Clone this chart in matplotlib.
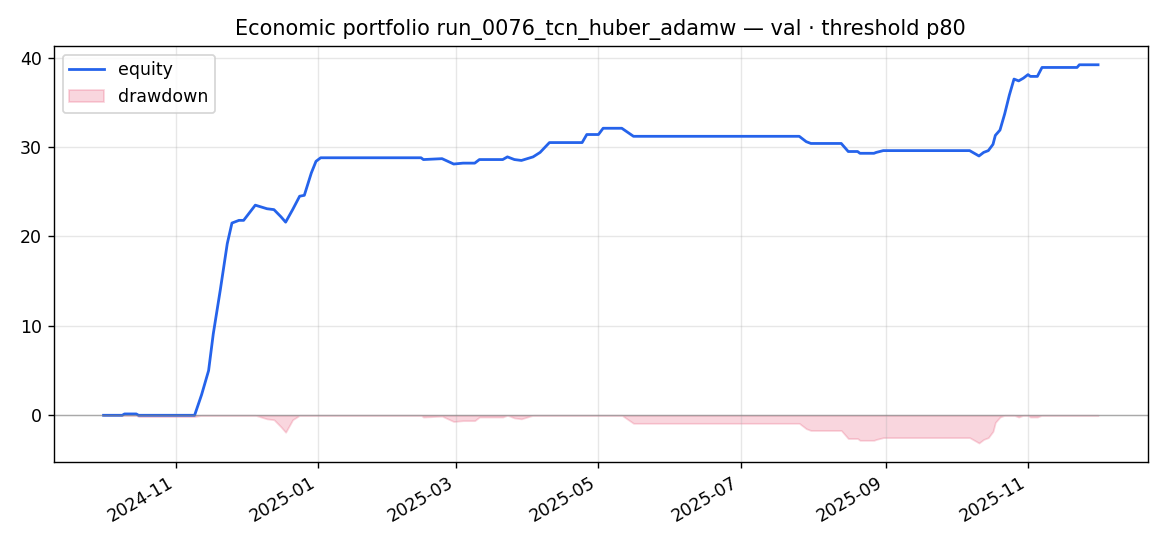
import numpy as np
import pandas as pd
import matplotlib
matplotlib.use('Agg')
import matplotlib.pyplot as plt

# equity curve
dates = [
    '2024-10-01', '2024-10-09', '2024-10-10', '2024-10-15', '2024-10-16',
    '2024-11-09', '2024-11-12', '2024-11-15', '2024-11-17', '2024-11-20',
    '2024-11-23', '2024-11-25', '2024-11-28', '2024-11-30', '2024-12-05',
    '2024-12-10', '2024-12-13', '2024-12-16', '2024-12-18', '2024-12-21',
    '2024-12-24', '2024-12-26', '2024-12-29', '2024-12-31', '2025-01-02',
    '2025-02-14', '2025-02-15', '2025-02-23', '2025-02-28', '2025-03-04',
    '2025-03-09', '2025-03-11', '2025-03-21', '2025-03-23', '2025-03-26',
    '2025-03-29', '2025-04-03', '2025-04-06', '2025-04-10', '2025-04-24',
    '2025-04-26', '2025-05-01', '2025-05-03', '2025-05-11', '2025-05-16',
    '2025-07-26', '2025-07-29', '2025-07-31', '2025-08-13', '2025-08-16',
    '2025-08-20', '2025-08-21', '2025-08-27', '2025-08-28', '2025-08-31',
    '2025-10-07', '2025-10-11', '2025-10-13', '2025-10-15', '2025-10-17',
    '2025-10-18', '2025-10-20', '2025-10-22', '2025-10-24', '2025-10-26',
    '2025-10-28', '2025-10-30', '2025-11-01', '2025-11-02', '2025-11-05',
    '2025-11-07', '2025-11-22', '2025-11-23', '2025-12-01',
]
equity = [
    0.0, 0.0, 0.15, 0.15, 0.0,
    0.0, 2.3, 5.0, 9.1, 14.0,
    19.2, 21.5, 21.8, 21.8, 23.5,
    23.1, 23.0, 22.2, 21.6, 23.0,
    24.5, 24.6, 27.1, 28.4, 28.8,
    28.8, 28.6, 28.7, 28.1, 28.2,
    28.2, 28.6, 28.6, 28.9, 28.6,
    28.5, 28.9, 29.4, 30.5, 30.5,
    31.4, 31.4, 32.1, 32.1, 31.2,
    31.2, 30.6, 30.4, 30.4, 29.5,
    29.5, 29.3, 29.3, 29.4, 29.6,
    29.6, 29.0, 29.4, 29.6, 30.3,
    31.3, 31.9, 33.7, 35.8, 37.6,
    37.4, 37.7, 38.1, 37.9, 37.9,
    38.9, 38.9, 39.2, 39.2,
]

t = pd.to_datetime(dates)
eq = np.array(equity)
drawdown = eq - np.maximum.accumulate(eq)

fig, ax = plt.subplots(figsize=(9.36, 4.368), dpi=125)
ax.plot(t, eq, color='#2563eb', lw=1.6, label='equity')
ax.fill_between(t, drawdown, 0, color='#e11d48', alpha=0.18, label='drawdown')
ax.axhline(0, color='gray', lw=0.8, alpha=0.6)
ax.set_title('Economic portfolio run_0076_tcn_huber_adamw — val · threshold p80')
ax.grid(alpha=0.3)
ax.legend(loc='upper left')
fig.autofmt_xdate()
fig.subplots_adjust(left=0.046, right=0.981, top=0.916, bottom=0.154)
plt.savefig('out.png', dpi=125)
